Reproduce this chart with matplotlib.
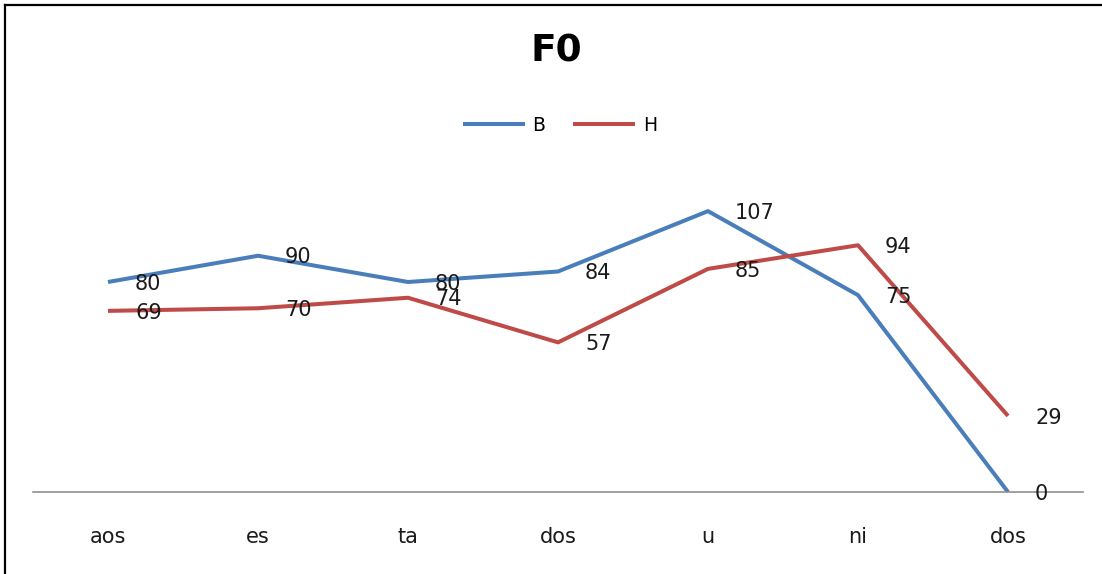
import matplotlib
matplotlib.use("Agg")
import matplotlib.pyplot as plt
from matplotlib.lines import Line2D

# datos del grafico
silabas = ["aos", "es", "ta", "dos", "u", "ni", "dos"]
serie_b = [80, 90, 80, 84, 107, 75, 0]
serie_h = [69, 70, 74, 57, 85, 94, 29]
titulo = "F0"

fig = plt.figure(figsize=(11.02, 5.74), dpi=100)
ax = fig.add_axes([33 / 1102, 82 / 574, 1050 / 1102, 315 / 574])

x = list(range(len(silabas)))
ax.plot(x, serie_b, color="#4A7EBB", lw=2.9, label="B", solid_capstyle="butt")
ax.plot(x, serie_h, color="#BE4B48", lw=2.9, label="H", solid_capstyle="butt")

# etiquetas de datos a la derecha de cada punto (80 y 74 se pisan también en el original)
for serie in (serie_b, serie_h):
    for xi, v in zip(x, serie):
        ax.annotate(str(v), (xi, v), xytext=(19.5, -1.2), textcoords="offset points",
                    ha="left", va="center", fontsize=15, color="#1a1a1a")

ax.set_xlim(-0.5, len(silabas) - 0.5)
ax.set_ylim(0, 120)
for lado in ("top", "right", "left"):
    ax.spines[lado].set_visible(False)
ax.spines["bottom"].set_color("#868686")
ax.spines["bottom"].set_linewidth(1.1)
ax.set_yticks([])
ax.set_xticks(x)
ax.set_xticklabels(silabas, fontsize=15, color="#1a1a1a")
ax.tick_params(axis="x", length=0, pad=25)

fig.text(0.505, 0.911, titulo, ha="center", va="center", fontsize=27, fontweight="bold")
fig.legend(loc="center", bbox_to_anchor=(0.508, 0.782), ncol=2, frameon=False,
           fontsize=13.5, handlelength=3.3, handletextpad=0.4, columnspacing=1.5)

# borde superior e izquierdo de la captura
fig.add_artist(Line2D([5 / 1102, 5 / 1102], [0, 1 - 5 / 574], color="black", lw=1.6,
                      transform=fig.transFigure))
fig.add_artist(Line2D([5 / 1102, 1], [1 - 5 / 574, 1 - 5 / 574], color="black", lw=1.6,
                      transform=fig.transFigure))

plt.savefig("out.png", dpi=100)
